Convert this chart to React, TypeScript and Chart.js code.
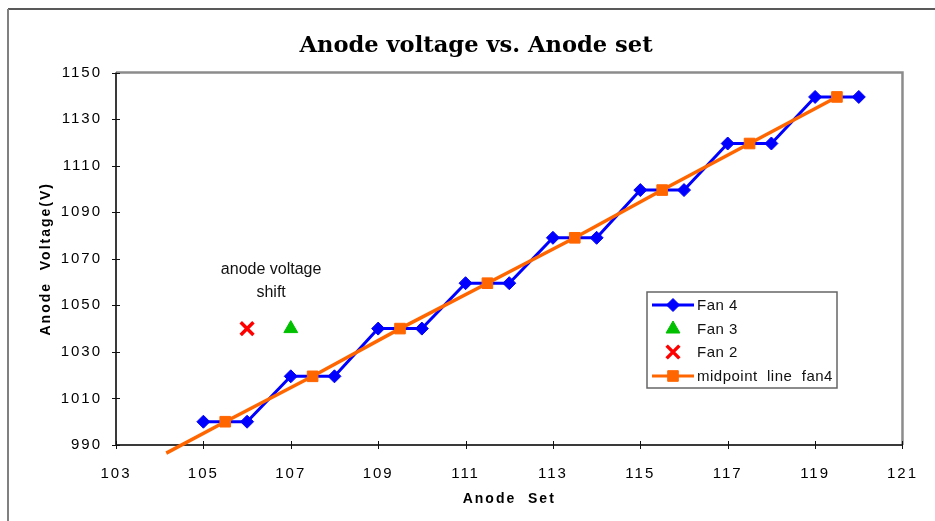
import React, { useEffect, useRef } from 'react';
import { Chart, registerables } from 'chart.js';

Chart.register(...registerables);

// Anode set points and measured anode voltage for fan 4
const anodeSet = [105, 106, 107, 108, 109, 110, 111, 112, 113, 114, 115, 116, 117, 118, 119, 120];
const fan4Voltage = [1000, 1000, 1019.5, 1019.5, 1040, 1040, 1059.5, 1059.5, 1079, 1079, 1099.5, 1099.5, 1119.5, 1119.5, 1139.5, 1139.5];

// Midpoint line through the fan 4 steps (first point is the line's lower end, no marker)
const midpointSet = [104.15, 105.5, 107.5, 109.5, 111.5, 113.5, 115.5, 117.5, 119.5];
const midpointVoltage = [986.5, 1000, 1019.5, 1040, 1059.5, 1079, 1099.5, 1119.5, 1139.5];
const midpointRadius = [0, 7.5, 7.5, 7.5, 7.5, 7.5, 7.5, 7.5, 7.5];

const fan3Set = [107];
const fan3Voltage = [1040];
const fan2Set = [106];
const fan2Voltage = [1040];

const xTickValues = [103, 105, 107, 109, 111, 113, 115, 117, 119, 121];
const yTickValues = [990, 1010, 1030, 1050, 1070, 1090, 1110, 1130, 1150];

const chartTitle = 'Anode voltage vs. Anode set';
const xTitle = 'Anode  Set';
const yTitle = 'Anode  Voltage(V)';
const noteLines = ['anode voltage', 'shift'];
const noteSet = 106.55;
const noteVoltage = [1065.3, 1055.4];

const BLUE = '#0000FF';
const ORANGE = '#FF6600';
const GREEN = '#00C000';
const RED = '#FF0000';
const SANS = '"Liberation Sans", Arial, sans-serif';

const toPoints = (xs: number[], ys: number[]) => xs.map((x, i) => ({ x, y: ys[i] }));

function drawMarker(ctx: CanvasRenderingContext2D, style: string, x: number, y: number, r: number, color: string, bw: number) {
  ctx.save();
  ctx.fillStyle = color;
  ctx.strokeStyle = color;
  ctx.lineWidth = bw;
  ctx.beginPath();
  if (style === 'rectRot') {
    ctx.moveTo(x, y - r);
    ctx.lineTo(x + r, y);
    ctx.lineTo(x, y + r);
    ctx.lineTo(x - r, y);
    ctx.closePath();
    ctx.fill();
    ctx.stroke();
  } else if (style === 'rect') {
    const s = Math.SQRT1_2 * r;
    ctx.rect(x - s, y - s, 2 * s, 2 * s);
    ctx.fill();
    ctx.stroke();
  } else if (style === 'triangle') {
    for (let k = 0; k < 3; k++) {
      const a = -Math.PI / 2 + (k * 2 * Math.PI) / 3;
      const px = x + Math.cos(a) * r;
      const py = y + Math.sin(a) * r;
      if (k === 0) ctx.moveTo(px, py);
      else ctx.lineTo(px, py);
    }
    ctx.closePath();
    ctx.fill();
    ctx.stroke();
  } else if (style === 'crossRot') {
    const d = Math.SQRT1_2 * r;
    ctx.moveTo(x - d, y - d);
    ctx.lineTo(x + d, y + d);
    ctx.moveTo(x - d, y + d);
    ctx.lineTo(x + d, y - d);
    ctx.stroke();
  }
  ctx.restore();
}

const decorPlugin = {
  id: 'decor',
  beforeDraw(chart: any) {
    // spaced-out axis text
    (chart.ctx as any).letterSpacing = '2px';
  },
  beforeDatasetsDraw(chart: any) {
    const ctx: CanvasRenderingContext2D = chart.ctx;
    (ctx as any).letterSpacing = '0px';
    const { left, right, top, bottom } = chart.chartArea;
    const xs = chart.scales.x;
    const ys = chart.scales.y;
    ctx.save();
    // outer frame
    ctx.strokeStyle = '#222';
    ctx.lineWidth = 1.5;
    ctx.beginPath();
    ctx.moveTo(8, 9);
    ctx.lineTo(chart.width, 9);
    ctx.stroke();
    ctx.strokeStyle = '#808080';
    ctx.lineWidth = 2;
    ctx.beginPath();
    ctx.moveTo(8, 9);
    ctx.lineTo(8, chart.height);
    ctx.stroke();
    // plot area: grey top/right
    ctx.strokeStyle = '#8c8c8c';
    ctx.lineWidth = 2.5;
    ctx.beginPath();
    ctx.moveTo(left, top);
    ctx.lineTo(right, top);
    ctx.lineTo(right, bottom);
    ctx.stroke();
    // axes
    ctx.strokeStyle = '#3a3a3a';
    ctx.lineWidth = 2;
    ctx.beginPath();
    ctx.moveTo(left, top);
    ctx.lineTo(left, bottom);
    ctx.lineTo(right, bottom);
    ctx.stroke();
    // tick marks crossing the axes
    ctx.strokeStyle = '#111';
    ctx.lineWidth = 1;
    ctx.beginPath();
    xs.ticks.forEach((t: any) => {
      const px = Math.round(xs.getPixelForValue(t.value)) + 0.5;
      ctx.moveTo(px, bottom - 4);
      ctx.lineTo(px, bottom + 4);
    });
    ys.ticks.forEach((t: any) => {
      const py = Math.round(ys.getPixelForValue(t.value)) + 0.5;
      ctx.moveTo(left - 4, py);
      ctx.lineTo(left + 4, py);
    });
    ctx.stroke();
    ctx.restore();
  },
  afterDraw(chart: any) {
    const ctx: CanvasRenderingContext2D = chart.ctx;
    const xs = chart.scales.x;
    const ys = chart.scales.y;
    ctx.save();
    (ctx as any).letterSpacing = '0px';
    // title
    ctx.fillStyle = '#000';
    ctx.font = 'bold 22.6px "DejaVu Serif", serif';
    ctx.textAlign = 'center';
    ctx.textBaseline = 'middle';
    ctx.fillText(chartTitle, 476, 46);

    // note beside the shifted points
    ctx.font = `16px ${SANS}`;
    ctx.fillStyle = '#111';
    noteLines.forEach((line, i) => {
      ctx.fillText(line, xs.getPixelForValue(noteSet), ys.getPixelForValue(noteVoltage[i]));
    });

    // legend
    const bx = 647, by = 292, bw = 190, bh = 96;
    ctx.fillStyle = '#fff';
    ctx.fillRect(bx, by, bw, bh);
    ctx.strokeStyle = '#666';
    ctx.lineWidth = 1.5;
    ctx.strokeRect(bx, by, bw, bh);
    const rowY = [305, 329, 352, 376];
    const entries = [
      { ds: 0, line: true, style: 'rectRot', r: 6.5, color: BLUE, bw: 1 },
      { ds: 1, line: false, style: 'triangle', r: 8, color: GREEN, bw: 1 },
      { ds: 2, line: false, style: 'crossRot', r: 9, color: RED, bw: 3.5 },
      { ds: 3, line: true, style: 'rect', r: 7.5, color: ORANGE, bw: 1 },
    ];
    ctx.font = `15px ${SANS}`;
    ctx.textAlign = 'left';
    ctx.textBaseline = 'middle';
    entries.forEach((e, i) => {
      const y = rowY[i];
      if (e.line) {
        ctx.strokeStyle = e.color;
        ctx.lineWidth = 3;
        ctx.beginPath();
        ctx.moveTo(652, y);
        ctx.lineTo(694, y);
        ctx.stroke();
      }
      drawMarker(ctx, e.style, 673, y, e.r, e.color, e.bw);
      ctx.fillStyle = '#111';
      (ctx as any).letterSpacing = '0.5px';
      ctx.fillText(chart.data.datasets[e.ds].label, 697, y + 1);
    });
    ctx.restore();
  },
};

export default function App() {
  const canvasRef = useRef<HTMLCanvasElement | null>(null);

  useEffect(() => {
    const canvas = canvasRef.current;
    if (!canvas) return;
    const chart = new Chart(canvas, {
      type: 'line',
      data: {
        datasets: [
          {
            label: 'Fan 4',
            data: toPoints(anodeSet, fan4Voltage),
            borderColor: BLUE,
            backgroundColor: BLUE,
            borderWidth: 3,
            pointStyle: 'rectRot',
            pointRadius: 6.5,
            pointBorderWidth: 1,
            pointBackgroundColor: BLUE,
            pointBorderColor: BLUE,
            tension: 0,
            order: 3,
          },
          {
            label: 'Fan 3',
            data: toPoints(fan3Set, fan3Voltage),
            showLine: false,
            pointStyle: 'triangle',
            pointRadius: 8,
            pointBorderWidth: 1,
            pointBackgroundColor: GREEN,
            pointBorderColor: GREEN,
            borderColor: GREEN,
            backgroundColor: GREEN,
            order: 1,
          },
          {
            label: 'Fan 2',
            data: toPoints(fan2Set, fan2Voltage),
            showLine: false,
            pointStyle: 'crossRot',
            pointRadius: 9,
            pointBorderWidth: 3.5,
            pointBackgroundColor: RED,
            pointBorderColor: RED,
            borderColor: RED,
            backgroundColor: RED,
            order: 1,
          },
          {
            label: 'midpoint  line  fan4',
            data: toPoints(midpointSet, midpointVoltage),
            borderColor: ORANGE,
            backgroundColor: ORANGE,
            borderWidth: 3.5,
            pointStyle: 'rect',
            pointRadius: midpointRadius,
            pointBorderWidth: 1,
            pointBackgroundColor: ORANGE,
            pointBorderColor: ORANGE,
            tension: 0,
            clip: false,
            order: 2,
          },
        ],
      },
      options: {
        animation: false,
        responsive: false,
        devicePixelRatio: 1,
        layout: { padding: { top: 72.5, right: 32, bottom: 0, left: 0 } },
        plugins: {
          legend: { display: false },
          title: { display: false },
          tooltip: { enabled: false },
        },
        scales: {
          x: {
            type: 'linear',
            min: xTickValues[0],
            max: xTickValues[xTickValues.length - 1],
            afterBuildTicks: (s: any) => {
              s.ticks = xTickValues.map((v) => ({ value: v }));
            },
            afterFit: (s: any) => {
              s.height = 76;
            },
            grid: { display: false, drawTicks: false },
            border: { display: false },
            ticks: {
              padding: 20,
              color: '#000',
              font: { family: SANS, size: 15 },
              maxRotation: 0,
              autoSkip: false,
              callback: (v: any) => String(v),
            },
            title: {
              display: true,
              text: xTitle,
              color: '#000',
              font: { family: SANS, size: 14, weight: 'bold' },
              padding: { top: 0, bottom: 13.6 },
            },
          },
          y: {
            type: 'linear',
            min: yTickValues[0],
            max: yTickValues[yTickValues.length - 1],
            afterBuildTicks: (s: any) => {
              s.ticks = yTickValues.map((v) => ({ value: v }));
            },
            afterFit: (s: any) => {
              s.width = 116;
            },
            grid: { display: false, drawTicks: false },
            border: { display: false },
            ticks: {
              padding: 14,
              color: '#000',
              font: { family: SANS, size: 15 },
              autoSkip: false,
              callback: (v: any) => String(v),
            },
            title: {
              display: true,
              text: yTitle,
              color: '#000',
              font: { family: SANS, size: 14, weight: 'bold' },
              padding: { top: 37.6, bottom: 0 },
            },
          },
        },
      },
      plugins: [decorPlugin],
    } as any);
    return () => chart.destroy();
  }, []);

  return (
    <div style={{ position: 'fixed', left: 0, top: 0, width: 935, height: 521, background: '#fff' }}>
      <canvas ref={canvasRef} width={935} height={521} style={{ display: 'block' }} />
    </div>
  );
}
